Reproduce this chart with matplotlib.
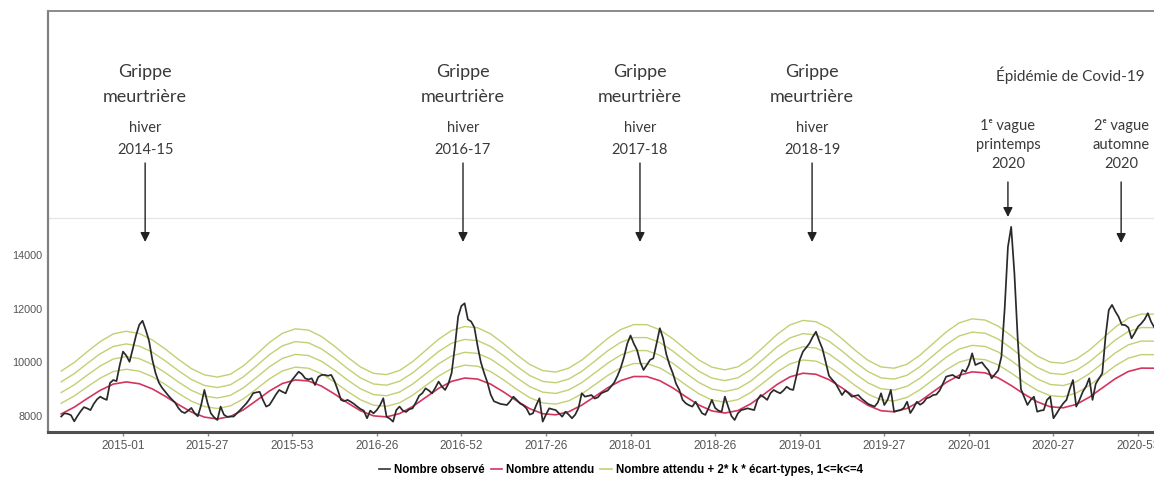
import numpy as np
import matplotlib
matplotlib.use("Agg")
import matplotlib.pyplot as plt
from matplotlib.transforms import blended_transform_factory
from matplotlib.lines import Line2D

# ---------------- data ----------------
first_week = -19          # week index relative to 2015-01
observed = [
    7980, 8100, 8080, 8030, 7800, 8000, 8180, 8330, 8280, 8220,
    8450, 8620, 8720, 8650, 8600, 9230, 9340, 9300, 9900, 10400,
    10250, 10020, 10500, 11000, 11400, 11550, 11200, 10800, 10100, 9600,
    9250, 9050, 8900, 8750, 8620, 8500, 8300, 8160, 8110, 8200,
    8300, 8100, 7990, 8400, 8970, 8480, 8100, 7950, 7850, 8350,
    8050, 7970, 7980, 7980, 8100, 8220, 8350, 8480, 8650, 8850,
    8880, 8900, 8600, 8350, 8410, 8600, 8800, 8970, 8900, 8845,
    9150, 9350, 9500, 9650, 9560, 9400, 9360, 9405, 9155, 9450,
    9530, 9530, 9500, 9530, 9300, 8970, 8600, 8550, 8600, 8530,
    8450, 8350, 8260, 8200, 7915, 8200, 8100, 8220, 8400, 8660,
    7975, 7900, 7790, 8220, 8350, 8200, 8150, 8250, 8285, 8500,
    8750, 8850, 9030, 8950, 8845, 9050, 9280, 9100, 8970, 9200,
    9600, 10580, 11700, 12100, 12200, 11600, 11520, 11300, 10600, 10000,
    9600, 9250, 8800, 8550, 8500, 8450, 8430, 8410, 8550, 8720,
    8600, 8470, 8400, 8285, 8050, 8100, 8400, 8660, 7790, 8050,
    8285, 8250, 8220, 8100, 7975, 8160, 8050, 7915, 8050, 8300,
    8845, 8720, 8750, 8780, 8650, 8700, 8845, 8900, 8950, 9100,
    9250, 9500, 9800, 10200, 10700, 11000, 10700, 10460, 10000, 9715,
    9900, 10090, 10150, 10700, 11270, 10900, 10300, 9900, 9590, 9200,
    8970, 8600, 8470, 8400, 8350, 8530, 8300, 8100, 8040, 8300,
    8600, 8300, 8200, 8160, 8720, 8350, 8000, 7850, 8100, 8220,
    8250, 8285, 8250, 8220, 8600, 8780, 8700, 8600, 8850, 8970,
    8900, 8845, 8950, 9090, 9000, 8970, 9500, 10090, 10400, 10550,
    10710, 10950, 11140, 10800, 10500, 10000, 9500, 9350, 9220, 9000,
    8780, 8950, 8850, 8720, 8750, 8780, 8650, 8550, 8450, 8400,
    8350, 8500, 8845, 8410, 8600, 8970, 8160, 8200, 8220, 8300,
    8530, 8110, 8300, 8530, 8420, 8500, 8660, 8700, 8780, 8800,
    8950, 9200, 9465, 9500, 9530, 9450, 9405, 9715, 9650, 9900,
    10335, 9900, 9960, 10000, 9840, 9700, 9405, 9550, 9700, 10210,
    12000, 14300, 15050, 13300, 10900, 9000, 8700, 8410, 8600, 8720,
    8160, 8200, 8220, 8600, 8720, 7915, 8100, 8300, 8470, 8600,
    9000, 9340, 8350, 8600, 8900, 9100, 9405, 8600, 9200, 9400,
    9590, 10955, 11950, 12140, 11900, 11700, 11400, 11390, 11300, 10895,
    11100, 11330, 11450, 11600, 11830, 11515, 11300,
]

band_step = 4             # expected / std-dev given every 4 weeks
expected = [
    8075, 8329, 8651, 8957, 9188, 9270, 9202, 9011, 8734, 8426,
    8149, 7958, 7890, 7981, 8229, 8575, 8931, 9211, 9344, 9305,
    9115, 8820, 8490, 8195, 8005, 7966, 8089, 8351, 8690, 9029,
    9291, 9414, 9376, 9187, 8894, 8566, 8273, 8084, 8044, 8159,
    8403, 8723, 9052, 9320, 9471, 9469, 9316, 9046, 8717, 8408,
    8189, 8110, 8202, 8456, 8809, 9172, 9458, 9594, 9554, 9355,
    9048, 8702, 8395, 8196, 8156, 8282, 8552, 8900, 9248, 9518,
    9644, 9607, 9422, 9136, 8814, 8528, 8343, 8306, 8431, 8699,
    9045, 9391, 9659, 9784, 9780,
]
std_dev = [
    200, 208, 218, 227, 234, 236, 234, 228, 220, 211,
    202, 197, 195, 197, 205, 215, 226, 234, 238, 237,
    231, 223, 213, 204, 198, 197, 201, 209, 219, 229,
    237, 240, 239, 234, 225, 215, 206, 201, 199, 203,
    210, 220, 230, 238, 242, 242, 237, 229, 220, 210,
    204, 201, 204, 212, 222, 233, 242, 246, 245, 239,
    229, 219, 210, 204, 203, 206, 215, 225, 235, 244,
    247, 246, 241, 232, 222, 214, 208, 207, 211, 219,
    229, 240, 248, 252, 252,
]
k_values = [1, 2, 3, 4]

tick_labels = ["2015-01", "2015-27", "2015-53", "2016-26", "2016-52", "2017-26",
               "2018-01", "2018-26", "2019-01", "2019-27", "2020-01", "2020-27",
               "2020-53"]
tick_step = 26
y_ticks = [8000, 10000, 12000, 14000]

flu_weeks = [6.8, 104.5, 158.9, 211.8]
flu_seasons = ["2014-15", "2016-17", "2017-18", "2018-19"]
covid_weeks = [272, 306.8]
covid_labels = ["1\u1d49 vague\nprintemps\n2020", "2\u1d49 vague\nautomne\n2020"]

# ---------------- figure ----------------
W, H = 1154, 487
fig = plt.figure(figsize=(W / 100, H / 100), dpi=100)
fig.patch.set_facecolor("white")

def fy(py):
    return 1 - py / H

ax = fig.add_axes([48 / W, fy(432), 1 - 48 / W, fy(11) - fy(432)])
ax.set_xlim(-23.06, 316.9)
ax.set_ylim(7403, 23095)

x_obs = np.arange(first_week, first_week + len(observed))
x_band = np.arange(first_week, first_week + band_step * len(expected), band_step)
exp_arr = np.array(expected, dtype=float)
sd_arr = np.array(std_dev, dtype=float)

band_color = "#c4cf73"
for k in k_values:
    ax.plot(x_band, exp_arr + 2 * k * sd_arr, color=band_color, lw=1.0, zorder=2)
ax.plot(x_band, exp_arr, color="#d4345e", lw=1.2, zorder=3)
ax.plot(x_obs, observed, color="#2a2a2a", lw=1.25, zorder=4)

# plot-area top line of original chart
ax.axhline(15380, color="#e6e6e6", lw=1.0, zorder=1)

# spines
ax.spines["right"].set_visible(False)
ax.spines["left"].set_color("#808080")
ax.spines["left"].set_linewidth(1.6)
ax.spines["top"].set_color("#8a8a8a")
ax.spines["top"].set_linewidth(1.4)
ax.spines["bottom"].set_color("#505050")
ax.spines["bottom"].set_linewidth(2.2)

ax.set_xticks(np.arange(0, tick_step * len(tick_labels), tick_step))
ax.set_xticklabels(tick_labels, fontsize=8.5, color="#555555", family="Liberation Sans")
ax.set_yticks(y_ticks)
ax.set_yticklabels([str(v) for v in y_ticks], fontsize=7.8, color="#555555",
                   family="Liberation Sans")
ax.tick_params(axis="x", length=3, width=1, color="#888888", pad=3)
ax.tick_params(axis="y", length=0, pad=4)

# ---------------- annotations ----------------
tr = blended_transform_factory(ax.transData, fig.transFigure)
txt_color = "#3a3a3a"
big_font = ["Lato", "DejaVu Sans"]

def arrow(x, y_from, y_to):
    ax.annotate("", xy=(x, fy(y_to)), xytext=(x, fy(y_from)),
                xycoords=tr, textcoords=tr, annotation_clip=False,
                arrowprops=dict(arrowstyle="-|>", color="#222222", lw=1.0,
                                mutation_scale=14, shrinkA=0, shrinkB=0))

for xw, season in zip(flu_weeks, flu_seasons):
    fig.text(xw, fy(72), "Grippe", transform=tr, ha="center", va="center",
             fontsize=13, color=txt_color, family=big_font)
    fig.text(xw, fy(97), "meurtrière", transform=tr, ha="center", va="center",
             fontsize=13, color=txt_color, family=big_font)
    fig.text(xw, fy(128), "hiver", transform=tr, ha="center", va="center",
             fontsize=10.5, color=txt_color, family=big_font)
    fig.text(xw, fy(150), season, transform=tr, ha="center", va="center",
             fontsize=10.5, color=txt_color, family=big_font)
    arrow(xw, 163, 242)

fig.text(291.1, fy(75), "Épidémie de Covid-19", transform=tr, ha="center",
         va="center", fontsize=11, color=txt_color, family=big_font)
for xw, lab, tip in zip(covid_weeks, covid_labels, [217, 243]):
    fig.text(xw, fy(145), lab, transform=tr, ha="center", va="center",
             fontsize=10.5, color=txt_color, family=big_font, linespacing=1.45)
    arrow(xw, 182, tip)

# ---------------- legend ----------------
handles = [Line2D([], [], color="#333333", lw=1.2),
           Line2D([], [], color="#d4345e", lw=1.2),
           Line2D([], [], color=band_color, lw=1.2)]
labels = ["Nombre observé", "Nombre attendu",
          "Nombre attendu + 2* k * écart-types, 1<=k<=4"]
fig.legend(handles, labels, loc="center", bbox_to_anchor=(0.538, fy(470)),
           ncol=3, frameon=False, handlelength=1.0, handletextpad=0.35,
           columnspacing=0.5, prop={"family": "Liberation Sans", "weight": "bold",
                                    "size": 8.3})

fig.savefig("out.png", dpi=100, facecolor="white")
